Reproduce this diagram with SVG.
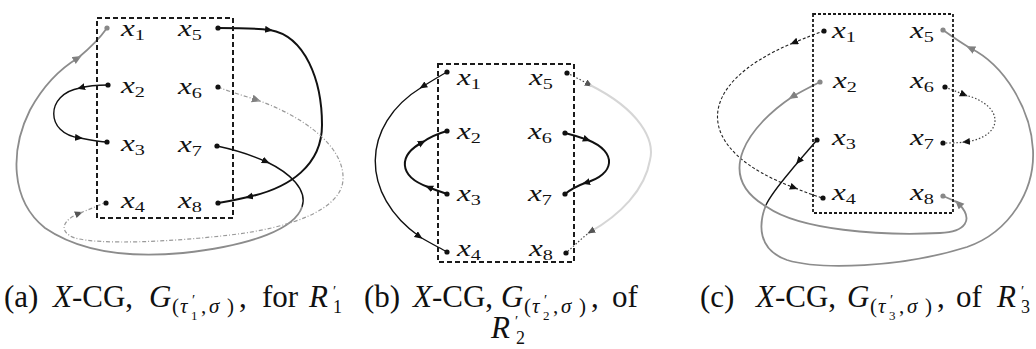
<svg xmlns="http://www.w3.org/2000/svg" width="1036" height="349" viewBox="0 0 1036 349">
<style>
.bg{fill:#fff}
.box{fill:none;stroke:#1a1a1a;stroke-width:2;stroke-dasharray:5 3}
.boxc{fill:none;stroke:#1a1a1a;stroke-width:1.8;stroke-dasharray:3 2}
.lab{font-family:"Liberation Serif","Times New Roman",serif;font-style:italic;font-size:23px;fill:#111}
.sub{font-style:normal;font-size:15px}
.dot{fill:#111}
.dotg{fill:#888}
.k{fill:none;stroke:#111;stroke-width:1.4}
.kt{fill:none;stroke:#111;stroke-width:2}
.g{fill:none;stroke:#8c8c8c;stroke-width:1.8}
.gd{fill:none;stroke:#9a9a9a;stroke-width:1.2;stroke-dasharray:4 2 1 2}
.dt{fill:none;stroke:#444;stroke-width:1.2;stroke-dasharray:1.5 2}
.fa{fill:none;stroke:#d6d6d6;stroke-width:2}
.dsh{fill:none;stroke:#222;stroke-width:1.1;stroke-dasharray:3 2}
.cap{font-family:"Liberation Serif","Times New Roman",serif;font-size:31px;fill:#111}
.it{font-style:italic}
.s1{font-size:21px}
.s2{font-size:15px}
.s3{font-size:13px}
.s4{font-size:18px}
</style>
<defs>
<marker id="ak" markerUnits="userSpaceOnUse" markerWidth="9" markerHeight="8" refX="5" refY="3.5" orient="auto"><path d="M0,0 L8,3.5 L0,7 z" fill="#111"/></marker>
<marker id="ag" markerUnits="userSpaceOnUse" markerWidth="10" markerHeight="9" refX="5" refY="4" orient="auto"><path d="M0,0 L9,4 L0,8 z" fill="#808080"/></marker>
<marker id="al" markerUnits="userSpaceOnUse" markerWidth="9" markerHeight="8" refX="5" refY="3.5" orient="auto"><path d="M0,0 L8,3.5 L0,7 z" fill="#555"/></marker>
</defs>
<rect class="bg" x="0" y="0" width="1036" height="349"/>

<g id="connectors">
  <!-- panel a -->
  <g id="a-e71">
    <path class="k" d="M217,146 Q245,152 267,162" marker-end="url(#ak)"/>
    <path class="k" d="M267,162 C290,173 308,190 302,207"/>
    <path class="g" d="M302,207 C295,228 255,245 183,253 C130,258 80,252 45,228 C10,200 10,150 30,110 C42,88 58,70 78,58" marker-end="url(#ag)"/>
    <path class="g" d="M78,58 C90,48 100,38 107,28"/>
  </g>
  <g id="a-e23">
    <path class="k" d="M108,85 C96,85 87,86 80,88" marker-end="url(#ak)"/>
    <path class="k" d="M80,88 C45,94 45,134 80,138" marker-end="url(#ak)"/>
    <path class="k" d="M80,138 C90,140 100,142 107,142"/>
  </g>
  <g id="a-e58">
    <path class="kt" d="M218,28 C240,28 255,28 270,30" marker-end="url(#ak)"/>
    <path class="kt" d="M270,30 C305,36 322,80 322,125 C322,165 290,188 248,197" marker-end="url(#ak)"/>
    <path class="kt" d="M248,197 C235,200 225,202 218,203"/>
  </g>
  <g id="a-e64">
    <path class="gd" d="M218,87 C230,92 245,96 257,100" marker-end="url(#ag)"/>
    <path class="gd" d="M257,100 C300,115 345,145 343,180 C341,210 290,228 230,235 C170,242 100,245 75,238 C58,232 62,220 80,213" marker-end="url(#al)"/>
    <path class="gd" d="M80,213 C90,209 100,205 106,202"/>
  </g>
  <!-- panel b -->
  <g id="b-e14">
    <path class="k" d="M447,72 C438,77 430,82 422,87" marker-end="url(#ak)"/>
    <path class="k" d="M422,87 C360,125 360,195 420,237" marker-end="url(#ak)"/>
    <path class="k" d="M420,237 C430,243 440,248 447,252"/>
  </g>
  <g id="b-e32">
    <path class="kt" d="M447,194 C442,192 435,190 428,187" marker-end="url(#ak)"/>
    <path class="kt" d="M428,187 C398,176 398,155 423,142" marker-end="url(#ak)"/>
    <path class="kt" d="M423,142 C430,137 440,133 447,131"/>
  </g>
  <g id="b-e67">
    <path class="kt" d="M565,133 C573,135 580,137 588,140" marker-end="url(#ak)"/>
    <path class="kt" d="M588,140 C618,152 615,175 585,183" marker-end="url(#ak)"/>
    <path class="kt" d="M585,183 C577,186 570,190 565,194"/>
  </g>
  <g id="b-e58">
    <path class="dt" d="M567,73 C575,77 583,81 590,85" marker-end="url(#al)"/>
    <path class="fa" d="M590,85 C640,110 655,140 650,160 C645,190 620,215 590,232" marker-end="url(#al)"/>
    <path class="dt" d="M590,232 C582,238 575,245 567,252"/>
  </g>
  <!-- panel c -->
  <g id="c-e14">
    <path class="dsh" d="M824,31 C815,34 805,38 793,43" marker-end="url(#ak)"/>
    <path class="dsh" d="M793,43 C692,85 692,150 795,188" marker-end="url(#ak)"/>
    <path class="dsh" d="M795,188 C805,192 815,196 823,198"/>
  </g>
  <g id="c-e35">
    <path class="k" d="M817,140 C810,148 804,155 798,162" marker-end="url(#ak)"/>
    <path class="k" d="M798,162 C785,178 772,192 766,205"/>
    <path class="g" d="M766,205 C758,225 758,250 787,260 C820,270 900,268 967,247 C1010,232 1035,190 1033,150 C1031,110 1005,65 970,48" marker-end="url(#ag)"/>
    <path class="g" d="M970,48 C960,42 950,35 943,30"/>
  </g>
  <g id="c-e28">
    <path class="g" d="M820,82 C810,87 800,92 792,97" marker-end="url(#ag)"/>
    <path class="g" d="M792,97 C750,125 712,175 767,207 C800,230 880,236 940,233 C965,232 975,220 958,203" marker-end="url(#ag)"/>
    <path class="g" d="M958,203 C953,200 948,198 943,196"/>
  </g>
  <g id="c-e67">
    <path class="dt" d="M945,87 C952,90 958,92 965,95" marker-end="url(#ak)"/>
    <path class="dt" d="M965,95 C1005,105 1005,137 965,142" marker-end="url(#ak)"/>
    <path class="dt" d="M965,142 C957,143 950,143 945,143"/>
  </g>
</g>

<!-- panel a -->
<g id="a-box"><rect class="box" x="97" y="18" width="136" height="200"/></g>
<g id="a-x1"><circle class="dotg" cx="107" cy="28" r="2.6"/><text class="lab" transform="translate(121,36) scale(1.35,1)">x<tspan class="sub" dy="4">1</tspan></text></g>
<g id="a-x2"><circle class="dot" cx="108" cy="85" r="2.6"/><text class="lab" transform="translate(121,93) scale(1.35,1)">x<tspan class="sub" dy="4">2</tspan></text></g>
<g id="a-x3"><circle class="dot" cx="107" cy="142" r="2.6"/><text class="lab" transform="translate(121,151) scale(1.35,1)">x<tspan class="sub" dy="4">3</tspan></text></g>
<g id="a-x4"><circle class="dot" cx="106" cy="203" r="2.6"/><text class="lab" transform="translate(121,208) scale(1.35,1)">x<tspan class="sub" dy="4">4</tspan></text></g>
<g id="a-x5"><circle class="dot" cx="218" cy="28" r="2.6"/><text class="lab" transform="translate(178,36) scale(1.35,1)">x<tspan class="sub" dy="4">5</tspan></text></g>
<g id="a-x6"><circle class="dot" cx="218" cy="87" r="2.6"/><text class="lab" transform="translate(178,94) scale(1.35,1)">x<tspan class="sub" dy="4">6</tspan></text></g>
<g id="a-x7"><circle class="dot" cx="217" cy="146" r="2.6"/><text class="lab" transform="translate(178,152) scale(1.35,1)">x<tspan class="sub" dy="4">7</tspan></text></g>
<g id="a-x8"><circle class="dot" cx="218" cy="203" r="2.6"/><text class="lab" transform="translate(178,208) scale(1.35,1)">x<tspan class="sub" dy="4">8</tspan></text></g>

<!-- panel b -->
<g id="b-box"><rect class="box" x="438" y="64" width="136" height="198"/></g>
<g id="b-x1"><circle class="dot" cx="447" cy="72" r="2.6"/><text class="lab" transform="translate(457,85) scale(1.35,1)">x<tspan class="sub" dy="4">1</tspan></text></g>
<g id="b-x2"><circle class="dot" cx="447" cy="131" r="2.6"/><text class="lab" transform="translate(457,139) scale(1.35,1)">x<tspan class="sub" dy="4">2</tspan></text></g>
<g id="b-x3"><circle class="dot" cx="447" cy="194" r="2.6"/><text class="lab" transform="translate(457,201) scale(1.35,1)">x<tspan class="sub" dy="4">3</tspan></text></g>
<g id="b-x4"><circle class="dot" cx="447" cy="252" r="2.6"/><text class="lab" transform="translate(457,256) scale(1.35,1)">x<tspan class="sub" dy="4">4</tspan></text></g>
<g id="b-x5"><circle class="dot" cx="567" cy="73" r="2.6"/><text class="lab" transform="translate(529,85) scale(1.35,1)">x<tspan class="sub" dy="4">5</tspan></text></g>
<g id="b-x6"><circle class="dot" cx="565" cy="133" r="2.6"/><text class="lab" transform="translate(528,139) scale(1.35,1)">x<tspan class="sub" dy="4">6</tspan></text></g>
<g id="b-x7"><circle class="dot" cx="565" cy="194" r="2.6"/><text class="lab" transform="translate(528,201) scale(1.35,1)">x<tspan class="sub" dy="4">7</tspan></text></g>
<g id="b-x8"><circle class="dot" cx="566" cy="253" r="2.6"/><text class="lab" transform="translate(529,256) scale(1.35,1)">x<tspan class="sub" dy="4">8</tspan></text></g>

<!-- panel c -->
<g id="c-box"><rect class="boxc" x="813" y="14" width="140" height="199"/></g>
<g id="c-x1"><circle class="dot" cx="824" cy="31" r="2.6"/><text class="lab" transform="translate(832,38) scale(1.35,1)">x<tspan class="sub" dy="4">1</tspan></text></g>
<g id="c-x2"><circle class="dotg" cx="820" cy="82" r="2.6"/><text class="lab" transform="translate(833,88) scale(1.35,1)">x<tspan class="sub" dy="4">2</tspan></text></g>
<g id="c-x3"><circle class="dot" cx="817" cy="140" r="2.6"/><text class="lab" transform="translate(832,145) scale(1.35,1)">x<tspan class="sub" dy="4">3</tspan></text></g>
<g id="c-x4"><circle class="dot" cx="823" cy="198" r="2.6"/><text class="lab" transform="translate(832,200) scale(1.35,1)">x<tspan class="sub" dy="4">4</tspan></text></g>
<g id="c-x5"><circle class="dotg" cx="943" cy="30" r="2.6"/><text class="lab" transform="translate(910,38) scale(1.35,1)">x<tspan class="sub" dy="4">5</tspan></text></g>
<g id="c-x6"><circle class="dot" cx="945" cy="87" r="2.6"/><text class="lab" transform="translate(910,88) scale(1.35,1)">x<tspan class="sub" dy="4">6</tspan></text></g>
<g id="c-x7"><circle class="dot" cx="943" cy="143" r="2.6"/><text class="lab" transform="translate(910,145) scale(1.35,1)">x<tspan class="sub" dy="4">7</tspan></text></g>
<g id="c-x8"><circle class="dotg" cx="943" cy="196" r="2.6"/><text class="lab" transform="translate(910,200) scale(1.35,1)">x<tspan class="sub" dy="4">8</tspan></text></g>

<!-- captions -->
<g id="captions">
<text class="cap" y="307"><tspan x="4">(a)</tspan><tspan x="53" class="it">X</tspan><tspan>-CG,</tspan><tspan x="149" class="it">G</tspan><tspan class="s1" x="172" y="313">(</tspan><tspan class="s1 it" x="180">τ</tspan><tspan class="s2" x="192" y="305">′</tspan><tspan class="s3" x="191" y="320">1</tspan><tspan class="s1" x="201" y="313">,</tspan><tspan class="s1 it" x="209">σ</tspan><tspan class="s1" x="227">)</tspan><tspan x="239" y="307">,</tspan><tspan x="262">for</tspan><tspan x="309" class="it">R</tspan><tspan class="s2" x="333" y="296">′</tspan><tspan class="s4" x="333" y="313">1</tspan></text>
<text class="cap" y="307"><tspan x="364">(b)</tspan><tspan x="413" class="it">X</tspan><tspan>-CG,</tspan><tspan x="501" class="it">G</tspan><tspan class="s1" x="524" y="313">(</tspan><tspan class="s1 it" x="532">τ</tspan><tspan class="s2" x="544" y="305">′</tspan><tspan class="s3" x="543" y="320">2</tspan><tspan class="s1" x="553" y="313">,</tspan><tspan class="s1 it" x="561">σ</tspan><tspan class="s1" x="579">)</tspan><tspan x="591" y="307">,</tspan><tspan x="612">of</tspan></text>
<text class="cap" y="338"><tspan x="491" class="it">R</tspan><tspan class="s2" x="515" y="326">′</tspan><tspan class="s4" x="516" y="344">2</tspan></text>
<text class="cap" y="307"><tspan x="700">(c)</tspan><tspan x="756" class="it">X</tspan><tspan>-CG,</tspan><tspan x="847" class="it">G</tspan><tspan class="s1" x="870" y="313">(</tspan><tspan class="s1 it" x="878">τ</tspan><tspan class="s2" x="890" y="305">′</tspan><tspan class="s3" x="889" y="320">3</tspan><tspan class="s1" x="899" y="313">,</tspan><tspan class="s1 it" x="907">σ</tspan><tspan class="s1" x="925">)</tspan><tspan x="937" y="307">,</tspan><tspan x="956">of</tspan><tspan x="997" class="it">R</tspan><tspan class="s2" x="1021" y="296">′</tspan><tspan class="s4" x="1021" y="313">3</tspan></text>
</g>
</svg>
